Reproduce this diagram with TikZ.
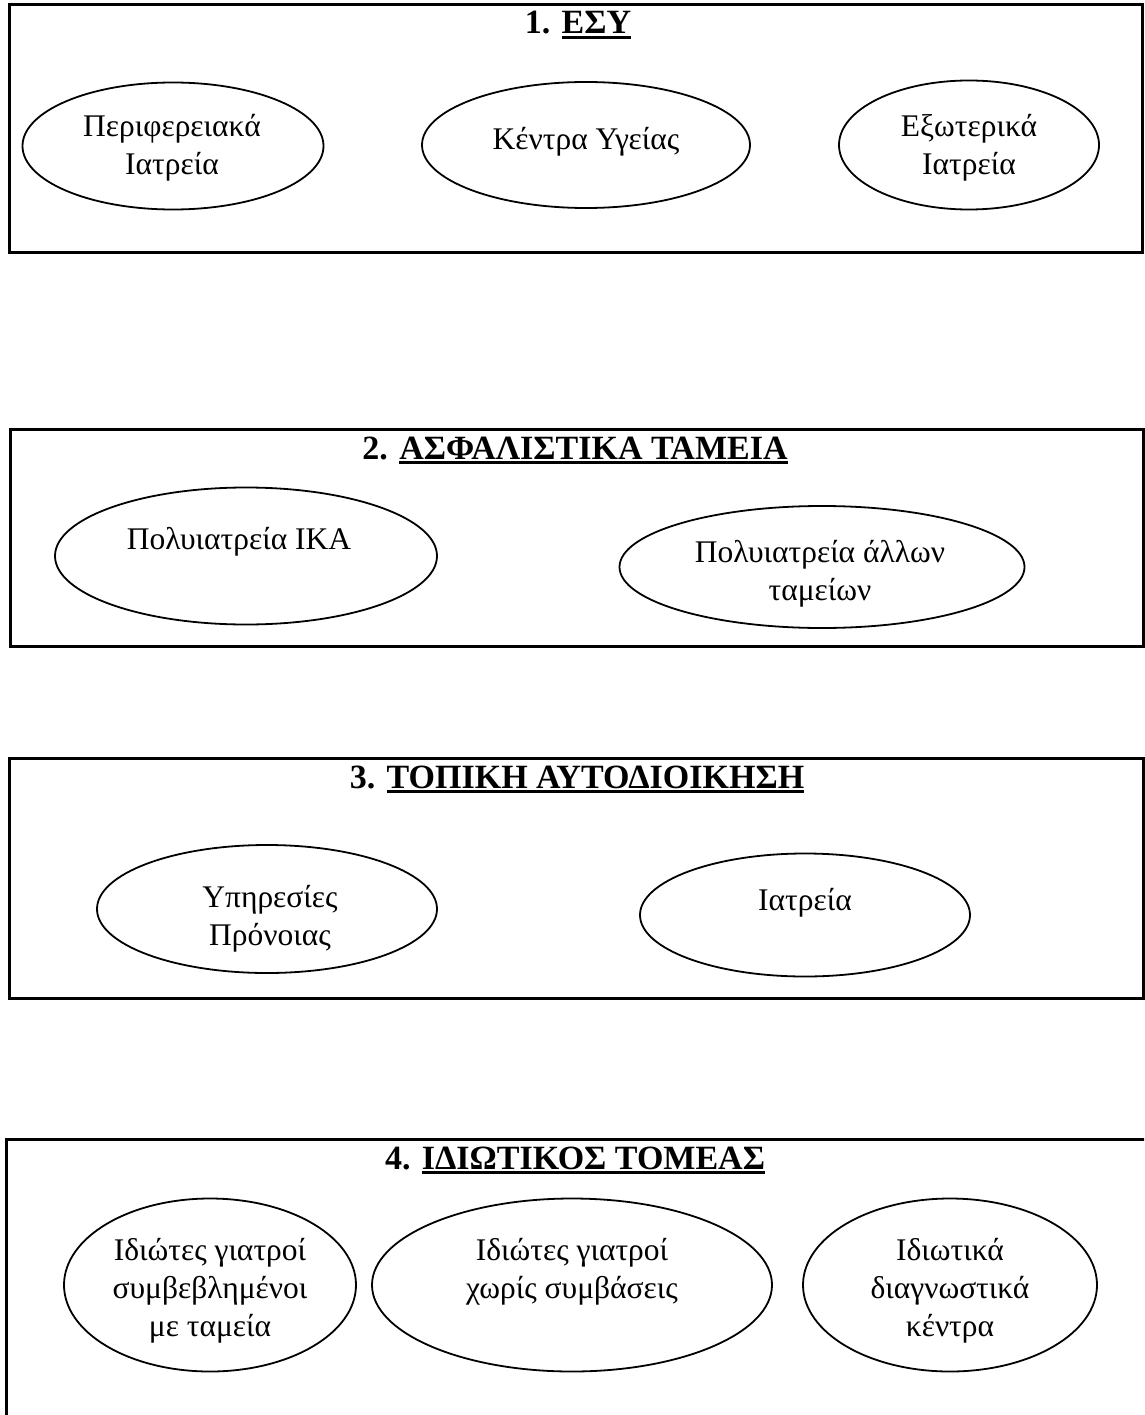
\documentclass[tikz,border=0pt]{standalone}
\usepackage{fontspec}
\setmainfont{Liberation Serif}
\usetikzlibrary{shapes.geometric}
% centred lines whose base anchor is the first line's baseline
\newcommand\stacklines[1]{\vtop{\halign{\hfil##\hfil\cr#1\crcr}}}
% heavy underline for the section headings
\newcommand\headrule[1]{\setbox0\hbox{#1}\rlap{\rule[-5pt]{\wd0}{2.6pt}}\box0}
\begin{document}
\begin{tikzpicture}[x=1pt,y=-1pt,
  panel/.style={draw, line width=2.6pt, rectangle, anchor=north west, inner sep=0pt},
  oval/.style={draw, ellipse, line width=1.8pt, inner sep=0pt},
  label text/.style={font=\fontsize{31.5}{38}\selectfont, anchor=base, inner sep=0pt},
  heading/.style={font=\fontsize{34}{40}\selectfont\bfseries, anchor=base, inner sep=0pt}]
\useasboundingbox (0,0) rectangle (1144,1415);
\fill[white] (0,0) rectangle (1144,1415);

% 1. ESY
\node[panel, minimum width=1133pt, minimum height=248pt] (box1) at (8,3) {};
\node[heading] (h1) at (578,34) {1. \headrule{ΕΣΥ}};
\node[oval, minimum width=301pt, minimum height=127pt] (p1) at (173,146) {};
\node[label text] (p1t) at (172,137) {\stacklines{Περιφερειακά\cr Ιατρεία}};
\node[oval, minimum width=328pt, minimum height=126pt] (p2) at (586,145) {};
\node[label text] (p2t) at (586,150) {Κέντρα Υγείας};
\node[oval, minimum width=260pt, minimum height=129pt] (p3) at (969,145) {};
\node[label text] (p3t) at (969,137) {\stacklines{Εξωτερικά\cr Ιατρεία}};

% 2. Insurance funds
\node[panel, minimum width=1133pt, minimum height=217pt] (box2) at (9,428) {};
\node[heading] (h2) at (575,459) {2. \headrule{ΑΣΦΑΛΙΣΤΙΚΑ ΤΑΜΕΙΑ}};
\node[oval, minimum width=382pt, minimum height=137pt] (q1) at (246,556) {};
\node[label text] (q1t) at (239,549) {Πολυιατρεία ΙΚΑ};
\node[oval, minimum width=405pt, minimum height=122pt] (q2) at (822,567) {};
\node[label text] (q2t) at (820,562) {\stacklines{Πολυιατρεία άλλων\cr ταμείων}};

% 3. Local government
\node[panel, minimum width=1134pt, minimum height=240pt] (box3) at (8,757) {};
\node[heading] (h3) at (577,788) {3. \headrule{ΤΟΠΙΚΗ ΑΥΤΟΔΙΟΙΚΗΣΗ}};
\node[oval, minimum width=340pt, minimum height=128pt] (r1) at (267,909) {};
\node[label text] (r1t) at (270,907) {\stacklines{Υπηρεσίες\cr Πρόνοιας}};
\node[oval, minimum width=330pt, minimum height=123pt] (r2) at (805,915) {};
\node[label text] (r2t) at (805,910) {Ιατρεία};

% 4. Private sector (panel runs past the page edges)
\begin{scope}
\clip (0,0) rectangle (1144,1415);
\node[panel, minimum width=1200pt, minimum height=320pt] (box4) at (5,1138) {};
\end{scope}
\node[heading] (h4) at (575,1169) {4. \headrule{ΙΔΙΩΤΙΚΟΣ ΤΟΜΕΑΣ}};
\node[oval, minimum width=292pt, minimum height=173pt] (s1) at (210,1285) {};
\node[label text] (s1t) at (210,1260) {\stacklines{Ιδιώτες γιατροί\cr συμβεβλημένοι\cr με ταμεία}};
\node[oval, minimum width=400pt, minimum height=173pt] (s2) at (572,1285) {};
\node[label text] (s2t) at (572,1260) {\stacklines{Ιδιώτες γιατροί\cr χωρίς συμβάσεις}};
\node[oval, minimum width=294pt, minimum height=173pt] (s3) at (950,1285) {};
\node[label text] (s3t) at (950,1260) {\stacklines{Ιδιωτικά\cr διαγνωστικά\cr κέντρα}};
\end{tikzpicture}
\end{document}
